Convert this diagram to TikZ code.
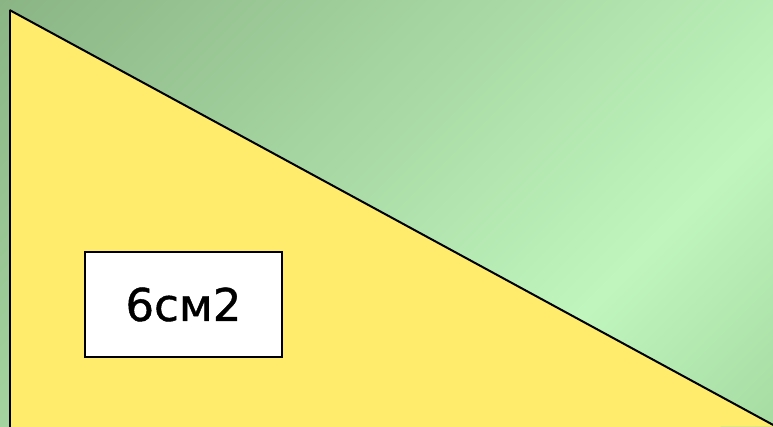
\documentclass[tikz,border=0pt]{standalone}
\usepackage{fontspec}
\newfontfamily\labelfont[FakeBold=1]{DejaVu Sans}
\definecolor{bgdark}{RGB}{138,180,132}
\definecolor{bglight}{RGB}{192,246,190}
\definecolor{bgmid}{RGB}{166,220,162}
\definecolor{tri}{RGB}{255,236,108}
\begin{document}
\begin{tikzpicture}[x=1pt,y=1pt,
  trifill/.style={fill=tri},
  edge/.style={draw=black,line width=2pt,line cap=butt},
  areabox/.style={draw=black,fill=white,line width=1.5pt,minimum width=197pt,minimum height=105pt,inner sep=0pt,font=\labelfont\fontsize{45}{54}\selectfont}]
\useasboundingbox (0,0) rectangle (773,427);
\begin{scope}
\clip (0,0) rectangle (773,427);
\foreach \c in {0,5,...,1205}{
  \pgfmathsetmacro\t{\c/1200}
  \pgfmathsetmacro\p{\t<0.75 ? 100*\t/0.75 : 100*(1-(\t-0.75)/0.25)}
  \ifdim\t pt<0.75pt
    \fill[bglight!\p!bgdark] (\c-3,427) -- (\c+3,427) -- (\c+3-700,-273) -- (\c-3-700,-273) -- cycle;
  \else
    \fill[bglight!\p!bgmid] (\c-3,427) -- (\c+3,427) -- (\c+3-700,-273) -- (\c-3-700,-273) -- cycle;
  \fi
}
\end{scope}
\coordinate (apex) at (9.5,417);
\coordinate (bl) at (9.5,-3);
\coordinate (br) at (776,0.5);
\fill[trifill] (apex) -- (br) -- (bl) -- cycle;
\draw[edge] (apex) -- (br);
\draw[edge] (apex) -- (bl);
\node[areabox] (area) at (183.5,122.5) {6см2};
\end{tikzpicture}
\end{document}
